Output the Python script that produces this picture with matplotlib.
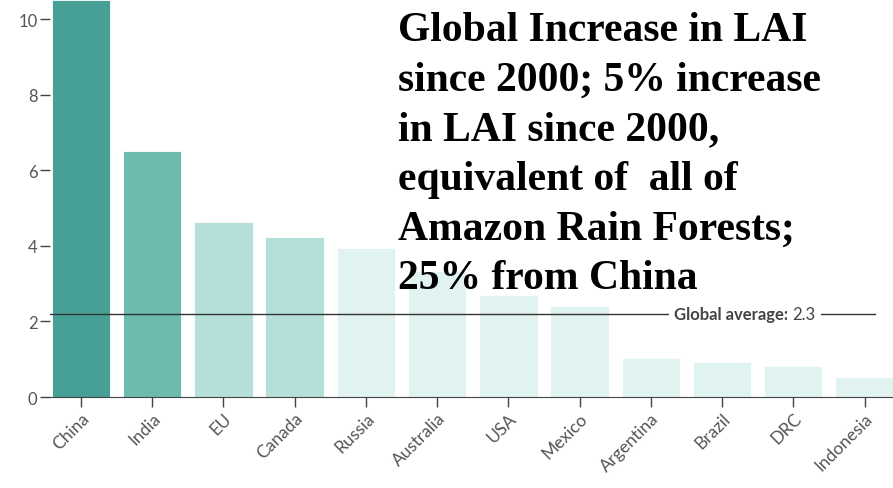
import matplotlib.pyplot as plt

# data
countries = ['China', 'India', 'EU', 'Canada', 'Russia', 'Australia', 'USA',
             'Mexico', 'Argentina', 'Brazil', 'DRC', 'Indonesia']
lai_increase = [10.5, 6.5, 4.63, 4.23, 3.94, 3.33, 2.7, 2.4, 1.03, 0.92, 0.82, 0.53]
bar_colors = ['#46a096', '#6dbaae', '#b5e0da', '#b5e0da'] + ['#e0f3f0'] * 8
global_avg_line = 2.2
global_avg_label = '2.3'
y_ticks = [0, 2, 4, 6, 8, 10]

title = ('Global Increase in LAI\nsince 2000; 5% increase\nin LAI since 2000,\n'
         'equivalent of  all of\nAmazon Rain Forests;\n25% from China')

fig = plt.figure(figsize=(8.93, 4.89), dpi=100)
ax = fig.add_axes([0.056, 0.186, 0.944, 0.814])

x = range(len(countries))
ax.bar(x, lai_increase, width=0.82, color=bar_colors, edgecolor='#ffffff',
       linewidth=0.6, zorder=2)

ax.set_xlim(-0.435, 11.4)
ax.set_ylim(0, 10.53)

# global average reference line with its label
ax.axhline(global_avg_line, xmax=0.979, color='#333333', linewidth=1, zorder=3)
ax.text(0.876, global_avg_line, 'Global average:', transform=ax.get_yaxis_transform(),
        ha='right', va='center', fontsize=12, family='Lato', weight='bold',
        color='#444444', zorder=4,
        bbox=dict(facecolor='white', edgecolor='none', pad=4))
ax.text(0.881, global_avg_line, global_avg_label, transform=ax.get_yaxis_transform(),
        ha='left', va='center', fontsize=12, family='Lato', color='#444444', zorder=4,
        bbox=dict(facecolor='white', edgecolor='none', pad=4))

ax.set_xticks(list(x))
ax.set_xticklabels(countries, rotation=45, ha='right', rotation_mode='anchor',
                   family='Lato', fontsize=12.5, color='#555555')
ax.set_yticks(y_ticks)
ax.set_yticklabels([str(t) for t in y_ticks], family='Lato', fontsize=12, color='#555555')
ax.tick_params(axis='both', length=7, width=1, color='#444444', pad=2)

for side in ['top', 'right', 'left']:
    ax.spines[side].set_visible(False)
ax.spines['bottom'].set_color('#444444')

fig.text(0.446, 0.975, title, ha='left', va='top', family='Liberation Serif',
         weight='bold', fontsize=30, linespacing=1.4, color='black', zorder=10)

fig.savefig('out.png', dpi=100)
